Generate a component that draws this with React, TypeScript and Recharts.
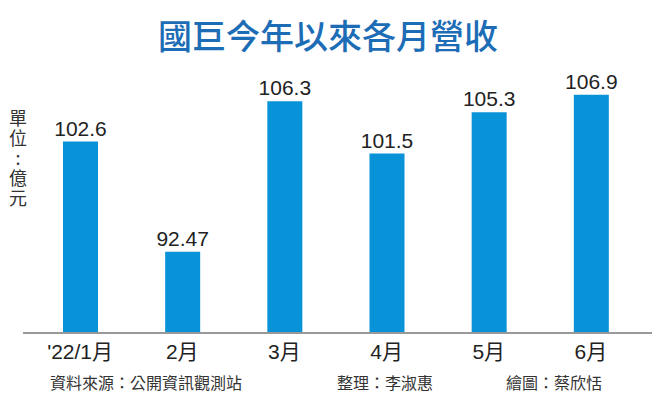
import { Bar, BarChart, LabelList, XAxis, YAxis } from "recharts";

const months = ["'22/1月", "2月", "3月", "4月", "5月", "6月"];
const revenue = [102.6, 92.47, 106.3, 101.5, 105.3, 106.9];
const valueLabels = ["102.6", "92.47", "106.3", "101.5", "105.3", "106.9"];

const data = months.map((m, i) => ({ month: m, value: revenue[i], label: valueLabels[i] }));

const LATIN = "'Liberation Sans', Arial, 'Noto Sans CJK TC', sans-serif";
const CJK = "'Noto Sans CJK TC', sans-serif";

export default function App() {
  return (
    <div style={{ position: "absolute", left: 0, top: 0, width: 656, height: 394, background: "#ffffff" }}>
      <div
        style={{
          position: "absolute",
          left: 0,
          width: 656,
          top: 12,
          textAlign: "center",
          fontFamily: CJK,
          fontWeight: 500,
          fontSize: 34,
          lineHeight: "46px",
          color: "#1c6cb6",
        }}
      >
        國巨今年以來各月營收
      </div>
      <div
        style={{
          position: "absolute",
          left: 7,
          top: 109,
          fontFamily: CJK,
          fontSize: 18,
          lineHeight: "22px",
          letterSpacing: 2,
          color: "#333333",
          writingMode: "vertical-rl",
          textOrientation: "upright",
        }}
      >
        單位:億元
      </div>
      <BarChart
        width={656}
        height={394}
        data={data}
        margin={{ top: 72, right: 4, left: 23, bottom: 31 }}
        barSize={35}
      >
        <XAxis
          dataKey="month"
          height={30}
          padding={{ left: 6, right: 10 }}
          tickLine={false}
          tickSize={0}
          tickMargin={11}
          axisLine={{ stroke: "#999999", strokeWidth: 2 }}
          tick={{ fill: "#222222", fontSize: 21, fontFamily: LATIN }}
          interval={0}
        />
        <YAxis hide domain={[85, 109]} width={0} />
        <Bar dataKey="value" fill="#0892d8" isAnimationActive={false}>
          <LabelList
            dataKey="label"
            position="top"
            offset={6}
            fill="#222222"
            fontSize={21}
            fontFamily={LATIN}
          />
        </Bar>
      </BarChart>
      {[
        { t: "資料來源：公開資訊觀測站", x: 50 },
        { t: "整理：李淑惠", x: 337 },
        { t: "繪圖：蔡欣恬", x: 506 },
      ].map((f) => (
        <div
          key={f.t}
          style={{
            position: "absolute",
            left: f.x,
            top: 371,
            fontFamily: CJK,
            fontSize: 16,
            lineHeight: "22px",
            color: "#333333",
            whiteSpace: "nowrap",
          }}
        >
          {f.t}
        </div>
      ))}
    </div>
  );
}
